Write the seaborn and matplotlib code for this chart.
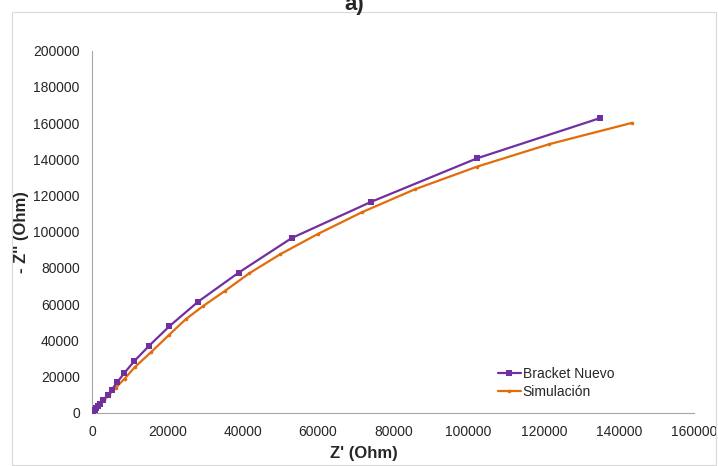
import matplotlib
matplotlib.use("Agg")
import matplotlib.pyplot as plt
import matplotlib.patches as patches
import seaborn as sb

# Bracket Nuevo (measured)
bracket_x = [100, 300, 600, 1000, 1400, 2000, 2900, 4100, 5200, 6600, 8500, 11200,
             15100, 20500, 28100, 38900, 53000, 74000, 102200, 135000]
bracket_y = [300, 800, 1500, 2500, 3500, 5000, 7000, 9800, 12800, 16800, 21900, 28600,
             37000, 47800, 61300, 77400, 96500, 116400, 140500, 162800]

# Simulacion
sim_x = [100, 250, 500, 900, 1400, 2100, 3100, 4400, 6200, 8600, 11300, 15600, 20300,
         24800, 29500, 35200, 41700, 50000, 59900, 71600, 85700, 102200, 121500, 143400]
sim_y = [200, 500, 1000, 1900, 3000, 4600, 6800, 9800, 13800, 18800, 25200, 33400, 42800,
         51600, 59000, 67200, 77000, 87600, 98700, 110700, 123400, 135900, 148400, 160100]

x_ticks = list(range(0, 160001, 20000))
y_ticks = list(range(0, 200001, 20000))

sb.set_style("white")
plt.rcParams["font.family"] = ["Liberation Sans", "DejaVu Sans"]

fig = plt.figure(figsize=(7.18, 4.66), dpi=100)
ax = fig.add_axes([0.1286, 0.1144, 0.8384, 0.7768])

sb.lineplot(x=sim_x, y=sim_y, sort=False, ax=ax, color="#E36C0A", lw=1.6,
            marker="o", markersize=2.6, markeredgewidth=0, label="Simulación", zorder=2)
sb.lineplot(x=bracket_x, y=bracket_y, sort=False, ax=ax, color="#7030A0", lw=1.6,
            marker="s", markersize=4, markeredgewidth=0, label="Bracket Nuevo", zorder=3)

ax.set_xlim(0, 160000)
ax.set_ylim(0, 200000)
ax.set_xticks(x_ticks)
ax.set_yticks(y_ticks)
ax.set_xticklabels([str(t) for t in x_ticks])
ax.set_yticklabels([str(t) for t in y_ticks])
ax.tick_params(axis="both", direction="out", length=4, width=0.8, color="#a6a6a6",
               labelsize=10, labelcolor="#262626", pad=5)
for side in ["top", "right"]:
    ax.spines[side].set_visible(False)
for side in ["left", "bottom"]:
    ax.spines[side].set_color("#a6a6a6")
    ax.spines[side].set_linewidth(0.8)

ax.set_xlabel("Z' (Ohm)", fontsize=12, fontweight="bold", va="center")
ax.set_ylabel("- Z'' (Ohm)", fontsize=12, fontweight="bold", va="center")
ax.xaxis.set_label_coords(0.451, -0.114)
ax.yaxis.set_label_coords(-0.117, 0.5)

handles, labels = ax.get_legend_handles_labels()
ax.legend(handles[::-1], labels[::-1], loc="lower left", bbox_to_anchor=(0.663, 0.02),
          frameon=False, fontsize=10, handlelength=1.6, handletextpad=0.15,
          labelspacing=0.25, borderpad=0)

# outer chart border and title (cut by the top edge as in the source)
fig.add_artist(patches.Rectangle((12 / 718, 1 / 466), 704 / 718, 453 / 466,
                                 transform=fig.transFigure, fill=False,
                                 edgecolor="#d9d9d9", linewidth=0.8))
fig.text(0.494, 0.978, "a)", ha="center", va="baseline", fontsize=16, fontweight="bold")

plt.savefig("out.png", dpi=100)
